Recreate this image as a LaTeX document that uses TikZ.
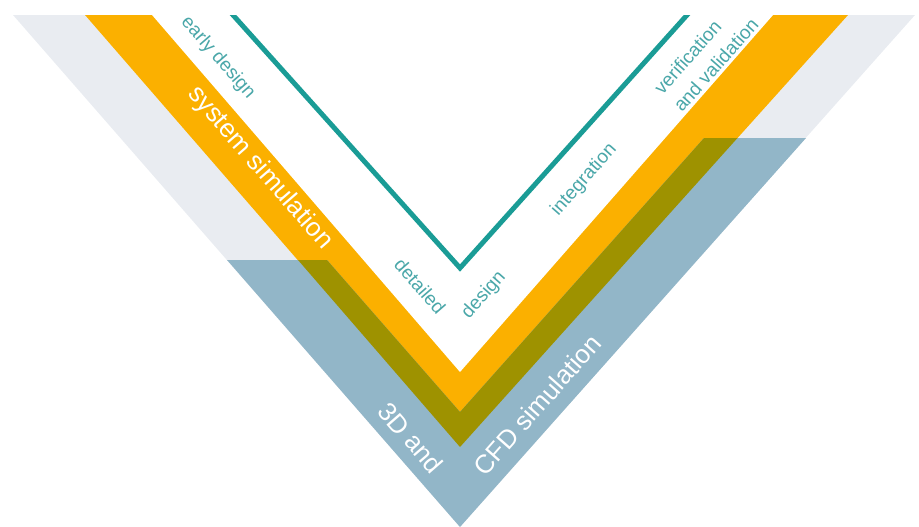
\documentclass[tikz,border=0pt]{standalone}
\usepackage{fontspec}
\setmainfont{Liberation Sans}
\usepackage{tikz}
\usetikzlibrary{positioning}
\definecolor{vgrey}{HTML}{E9ECF1}
\definecolor{vorange}{HTML}{FBB000}
\definecolor{vblue}{HTML}{92B6C8}
\definecolor{volive}{HTML}{9E9200}
\definecolor{vteal}{HTML}{1A9C96}
\definecolor{vtext}{HTML}{4AA7A9}

\begin{document}
\begin{tikzpicture}[x=0.02cm,y=-0.02cm,
	stage/.style={text=vtext,font=\fontsize{10.8}{14.8}\selectfont,inner sep=0pt},
	sim/.style={text=white,font=\fontsize{14.8}{17}\selectfont,inner sep=0pt}]
	\useasboundingbox (0,0) rectangle (919,527);
	\clip (0,0) rectangle (919,527);
	% bands of the V
	\fill [vgrey] (-0.1,0) -- (460,527) -- (928.3,0) -- cycle;
	\fill [vorange] (72,0) -- (460,447) -- (861.5,0) -- cycle;
	\fill [white] (139.1,0) -- (460,372) -- (786.2,0) -- cycle;
	% 3D / CFD band and its overlap with the orange one
	\fill [vblue] (227,260) -- (460,527) -- (806,138) -- (704,138) -- (460,412) -- (327,260) -- cycle;
	\fill [volive] (298,260) -- (460,447) -- (737.5,138) -- (704,138) -- (460,412) -- (327,260) -- cycle;
	% the V itself
	\coordinate (vtl) at (219.5,0);
	\coordinate (vtip) at (460,268);
	\coordinate (vtr) at (700.5,0);
	\draw [vteal, line width=2.8pt] (vtl) -- (vtip) -- (vtr);
	\node [stage, rotate=-49] (early) at (218,58) {early design};
	\node [sim, rotate=-49] (syssim) at (260,168) {system simulation};
	\node [stage, rotate=-49] (detailed) at (420,286) {detailed};
	\node [stage, rotate=48.5] (design) at (484,295) {design};
	\node [stage, rotate=48.5] (integ) at (584,180) {integration};
	\node [stage, rotate=48.5, align=left] (verval) at (706,56) {verification\\and validation};
	\node [sim, rotate=-49] (threed) at (411,438) {3D and};
	\node [sim, rotate=48.5] (cfd) at (537,405) {CFD simulation};
	% white strip above the V
	\fill [white] (0,0) rectangle (919,15);
\end{tikzpicture}
\end{document}
